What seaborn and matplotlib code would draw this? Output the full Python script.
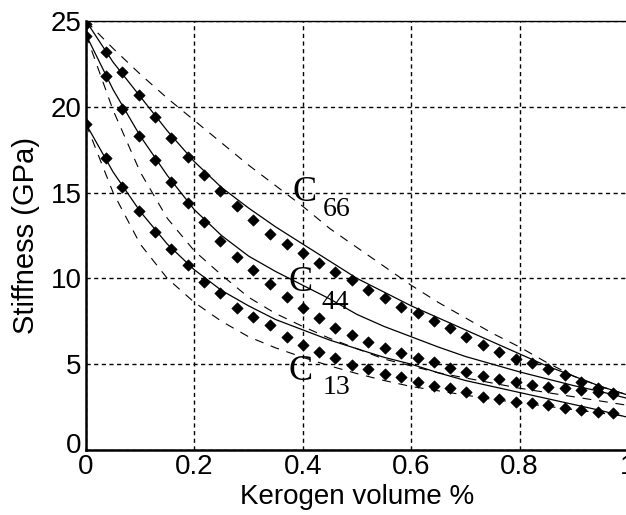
import pandas as pd
import seaborn as sns
import matplotlib.pyplot as plt
import matplotlib.transforms as mtransforms

# model curves (solid) and bounds (dashed), sampled on a common x grid
line_x = [0, 0.05, 0.1, 0.15, 0.2, 0.25, 0.3, 0.35, 0.4, 0.45, 0.5,
          0.55, 0.6, 0.65, 0.7, 0.75, 0.8, 0.85, 0.9, 0.95, 1.0]
c66_model = [25.0, 22.6, 20.6, 18.6, 16.8, 15.3, 14.1, 13.0, 12.0, 11.0, 10.0,
             9.2, 8.4, 7.7, 7.0, 6.3, 5.6, 4.9, 4.3, 3.7, 3.2]
c44_model = [24.2, 21.0, 18.3, 16.0, 14.0, 12.5, 11.3, 10.4, 9.6, 8.8, 7.9,
             7.2, 6.6, 6.0, 5.45, 5.0, 4.55, 4.15, 3.75, 3.4, 3.0]
c13_model = [19.0, 16.2, 13.9, 12.0, 10.5, 9.3, 8.4, 7.6, 7.0, 6.4, 5.9,
             5.4, 5.0, 4.5, 4.05, 3.7, 3.35, 3.0, 2.65, 2.3, 1.9]
bound_upper66 = [25.0, 23.4, 21.9, 20.5, 19.2, 17.9, 16.6, 15.4, 14.2, 12.9, 11.8,
                 10.7, 9.6, 8.6, 7.7, 6.8, 6.0, 5.1, 4.3, 3.7, 3.2]
bound_lower44 = [24.2, 19.8, 16.2, 13.5, 11.6, 10.2, 8.9, 7.95, 7.2, 6.5, 5.9,
                 5.3, 4.9, 4.5, 4.2, 3.9, 3.6, 3.35, 3.1, 2.85, 2.6]
bound_lower13 = [19.0, 15.0, 12.0, 10.0, 8.6, 7.5, 6.6, 5.95, 5.4, 4.9, 4.45,
                 4.05, 3.7, 3.45, 3.2, 2.95, 2.75, 2.55, 2.35, 2.15, 1.95]

# measured points (diamonds)
pts_x = [0, 0.036, 0.066, 0.097, 0.127, 0.157, 0.188, 0.218, 0.248, 0.279, 0.309,
         0.339, 0.37, 0.4, 0.43, 0.46, 0.49, 0.52, 0.552, 0.582, 0.612, 0.642,
         0.672, 0.702, 0.732, 0.762, 0.793, 0.823, 0.853, 0.884, 0.914, 0.944, 0.972]
c66_pts = [24.8, 23.2, 22.0, 20.7, 19.4, 18.2, 17.1, 16.0, 15.1, 14.2, 13.4,
           12.6, 12.0, 11.5, 10.9, 10.4, 9.9, 9.3, 8.85, 8.35, 8.0, 7.5,
           7.1, 6.6, 6.1, 5.7, 5.3, 5.05, 4.7, 4.35, 3.95, 3.6, 3.3]
c44_pts = [24.1, 21.8, 19.9, 18.3, 16.9, 15.6, 14.4, 13.3, 12.2, 11.25, 10.5,
           9.7, 8.9, 8.3, 7.7, 7.1, 6.7, 6.3, 5.95, 5.65, 5.35, 5.1,
           4.8, 4.55, 4.3, 4.15, 3.95, 3.8, 3.67, 3.6, 3.5, 3.38, 3.25]
c13_pts = [19.0, 17.0, 15.3, 13.9, 12.7, 11.7, 10.8, 9.8, 9.15, 8.3, 7.75,
           7.3, 6.6, 6.1, 5.7, 5.35, 4.95, 4.7, 4.4, 4.25, 3.95, 3.75,
           3.6, 3.38, 3.1, 3.0, 2.8, 2.74, 2.6, 2.45, 2.33, 2.2, 2.15]

# curve labels: (subscript, C x, C y, subscript x, subscript y)
labels = [('66', 0.404, 15.0, 0.463, 14.0),
          ('44', 0.395, 9.75, 0.46, 8.6),
          ('13', 0.395, 4.6, 0.463, 3.67)]

sns.set_style("white")
plt.rcParams['font.family'] = ['Liberation Sans', 'DejaVu Sans']
plt.rcParams['text.color'] = 'black'
plt.rcParams['axes.labelcolor'] = 'black'

fig = plt.figure(figsize=(6.26, 5.15), dpi=100)
ax = fig.add_axes([86 / 626, 65 / 515, 542 / 626, 429 / 515])

for ys in [c66_model, c44_model, c13_model]:
    sns.lineplot(x=line_x, y=ys, color='black', linewidth=0.9,
                 estimator=None, sort=False, ax=ax)
for ys in [bound_upper66, bound_lower44, bound_lower13]:
    sns.lineplot(x=line_x, y=ys, color='black', linewidth=0.8,
                 linestyle=(0, (8, 7)), estimator=None, sort=False, ax=ax)

pts = pd.DataFrame({'x': pts_x * 3,
                    'y': c66_pts + c44_pts + c13_pts})
sns.scatterplot(data=pts, x='x', y='y', marker='D', s=34, color='black',
                edgecolor='black', linewidth=0.4, ax=ax, zorder=3)

for sub, cx, cy, sx, sy in labels:
    ax.text(cx, cy, 'C', ha='center', va='center', fontsize=26,
            family=['Liberation Serif', 'DejaVu Serif'])
    ax.text(sx, sy, sub, ha='center', va='center', fontsize=20,
            family=['Liberation Serif', 'DejaVu Serif'])

ax.set_xlim(0, 1)
ax.set_ylim(0, 25)
ax.set_xticks([0, 0.2, 0.4, 0.6, 0.8, 1])
ax.set_xticklabels(['0', '0.2', '0.4', '0.6', '0.8', '1'])
ax.set_yticks([0, 5, 10, 15, 20, 25])
ax.tick_params(direction='in', length=4, labelsize=20, colors='black', pad=3)
ax.grid(True, color='black', linestyle=(0, (3, 2.5)), linewidth=1.0)

# nudge the y "0" up a little so it clears the x "0"
shift = mtransforms.ScaledTranslation(0, 5 / 72, fig.dpi_scale_trans)
ylab0 = ax.get_yticklabels()[0]
ylab0.set_transform(ylab0.get_transform() + shift)

for side in ['left', 'bottom']:
    ax.spines[side].set_linewidth(1.8)
for side in ['top', 'right']:
    ax.spines[side].set_linewidth(1.0)
for sp in ax.spines.values():
    sp.set_color('black')

ax.set_xlabel('Kerogen volume %', fontsize=20, labelpad=3)
ax.set_ylabel('Stiffness (GPa)', fontsize=21, labelpad=8)

fig.savefig('out.png', dpi=100)
